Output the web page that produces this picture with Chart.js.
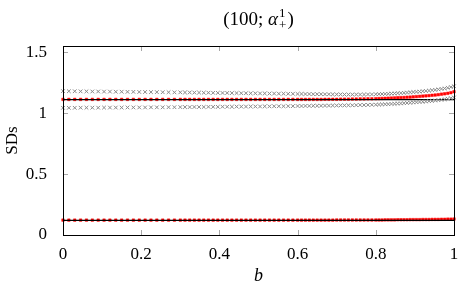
<!DOCTYPE html>
<html lang="en">
<head>
  <meta charset="UTF-8" />
  <title>SDs vs b</title>
  <script src="https://cdn.jsdelivr.net/npm/chart.js"></script>
  <style>
    body { margin: 0; background: #fff; }
    #wrap { width: 464px; height: 287px; }
  </style>
</head>
<body>
  <div id="wrap"><canvas id="chart" width="464" height="287"></canvas></div>

  <script>
    // b positions (denser towards 1)
    const bValues = [
      0, 0.015, 0.03, 0.045, 0.06, 0.075, 0.09, 0.105, 0.12, 0.135, 0.15, 0.165, 0.18, 0.195, 0.21, 0.225, 0.24, 0.255, 0.27, 0.285,
      0.3, 0.312, 0.324, 0.336, 0.348, 0.36, 0.372, 0.384, 0.396, 0.408, 0.42, 0.432, 0.444, 0.456, 0.468, 0.48, 0.492, 0.504, 0.516, 0.528, 0.54, 0.552, 0.564, 0.576, 0.588,
      0.6, 0.61, 0.62, 0.63, 0.64, 0.65, 0.66, 0.67, 0.68, 0.69, 0.7, 0.71, 0.72, 0.73, 0.74, 0.75, 0.76, 0.77, 0.78, 0.79,
      0.8, 0.808, 0.816, 0.824, 0.832, 0.84, 0.848, 0.856, 0.864, 0.872, 0.88, 0.888, 0.896, 0.904, 0.912, 0.92, 0.928, 0.936, 0.944, 0.952, 0.96, 0.968, 0.976, 0.984, 0.992, 1.0
    ];

    const upperGray = [
      1.180, 1.179, 1.179, 1.178, 1.178, 1.177, 1.177, 1.176, 1.176, 1.175, 1.175, 1.174, 1.174, 1.173, 1.173, 1.172, 1.172, 1.171, 1.171, 1.170,
      1.170, 1.169, 1.169, 1.168, 1.168, 1.167, 1.167, 1.166, 1.166, 1.165, 1.165, 1.164, 1.164, 1.163, 1.163, 1.162, 1.162, 1.161, 1.161, 1.160, 1.160, 1.159, 1.159, 1.158, 1.158,
      1.157, 1.157, 1.156, 1.156, 1.155, 1.155, 1.155, 1.154, 1.154, 1.153, 1.153, 1.153, 1.152, 1.152, 1.152, 1.152, 1.152, 1.152, 1.153, 1.153,
      1.154, 1.155, 1.156, 1.157, 1.158, 1.160, 1.161, 1.163, 1.164, 1.166, 1.168, 1.170, 1.172, 1.174, 1.176, 1.179, 1.181, 1.184, 1.187, 1.190, 1.194, 1.198, 1.202, 1.207, 1.213, 1.220
    ];

    const lowerGray = [
      1.043, 1.043, 1.043, 1.044, 1.044, 1.044, 1.044, 1.045, 1.045, 1.045, 1.045, 1.046, 1.046, 1.046, 1.046, 1.047, 1.047, 1.047, 1.048, 1.048,
      1.049, 1.049, 1.049, 1.050, 1.050, 1.050, 1.051, 1.051, 1.051, 1.052, 1.052, 1.052, 1.053, 1.053, 1.053, 1.054, 1.054, 1.054, 1.055, 1.055, 1.056, 1.056, 1.056, 1.057, 1.057,
      1.058, 1.058, 1.059, 1.059, 1.060, 1.060, 1.060, 1.061, 1.061, 1.062, 1.062, 1.063, 1.063, 1.064, 1.064, 1.065, 1.066, 1.066, 1.067, 1.068,
      1.069, 1.070, 1.071, 1.072, 1.073, 1.075, 1.076, 1.078, 1.079, 1.081, 1.083, 1.085, 1.087, 1.089, 1.091, 1.093, 1.095, 1.098, 1.100, 1.103, 1.106, 1.109, 1.113, 1.117, 1.122, 1.128
    ];

    const redUpper = [
      1.112, 1.112, 1.112, 1.112, 1.112, 1.112, 1.112, 1.112, 1.112, 1.112, 1.112, 1.112, 1.112, 1.112, 1.112, 1.112, 1.112, 1.112, 1.112, 1.112,
      1.112, 1.112, 1.112, 1.112, 1.112, 1.112, 1.112, 1.112, 1.112, 1.112, 1.112, 1.112, 1.112, 1.112, 1.112, 1.112, 1.112, 1.112, 1.112, 1.112, 1.112, 1.112, 1.112, 1.112, 1.112,
      1.112, 1.112, 1.112, 1.112, 1.112, 1.112, 1.112, 1.113, 1.113, 1.113, 1.113, 1.114, 1.114, 1.114, 1.115, 1.115, 1.116, 1.116, 1.117, 1.117,
      1.118, 1.119, 1.120, 1.121, 1.122, 1.123, 1.124, 1.126, 1.127, 1.128, 1.130, 1.131, 1.133, 1.135, 1.137, 1.139, 1.141, 1.143, 1.146, 1.148, 1.151, 1.155, 1.158, 1.162, 1.167, 1.175
    ];

    const redLower = [
      0.122, 0.122, 0.122, 0.122, 0.122, 0.122, 0.122, 0.122, 0.122, 0.122, 0.122, 0.122, 0.122, 0.122, 0.122, 0.122, 0.122, 0.122, 0.122, 0.122,
      0.122, 0.122, 0.122, 0.122, 0.122, 0.122, 0.122, 0.122, 0.122, 0.122, 0.122, 0.122, 0.122, 0.122, 0.122, 0.122, 0.122, 0.122, 0.122, 0.122, 0.122, 0.122, 0.122, 0.122, 0.122,
      0.122, 0.122, 0.122, 0.122, 0.122, 0.122, 0.122, 0.122, 0.122, 0.122, 0.123, 0.123, 0.123, 0.123, 0.123, 0.123, 0.123, 0.123, 0.123, 0.123,
      0.123, 0.123, 0.123, 0.124, 0.124, 0.124, 0.124, 0.125, 0.125, 0.125, 0.125, 0.126, 0.126, 0.126, 0.126, 0.127, 0.127, 0.127, 0.128, 0.128, 0.128, 0.129, 0.129, 0.130, 0.130, 0.131
    ];

    // reference (true) levels, drawn as solid black lines
    const bTrue = [0, 1];
    const trueUpper = [1.11, 1.11];
    const trueLower = [0.12, 0.12];

    const xTicks = [0, 0.2, 0.4, 0.6, 0.8, 1];
    const yTicks = [0, 0.5, 1, 1.5];

    const pts = (xs, ys) => xs.map((x, i) => ({ x: x, y: ys[i] }));

    const SERIF = '"Liberation Serif", "DejaVu Serif", serif';

    // axis box, inward tick marks and the title
    const framePlugin = {
      id: 'frame',
      afterDraw(chart) {
        const { ctx, chartArea: a, scales } = chart;
        ctx.save();
        ctx.strokeStyle = '#a8a8a8';
        ctx.lineWidth = 1;
        xTicks.forEach(v => {
          const px = Math.round(scales.x.getPixelForValue(v)) + 0.5;
          ctx.beginPath();
          ctx.moveTo(px, a.bottom); ctx.lineTo(px, a.bottom - 5);
          ctx.moveTo(px, a.top); ctx.lineTo(px, a.top + 5);
          ctx.stroke();
        });
        yTicks.forEach(v => {
          const py = Math.round(scales.y.getPixelForValue(v)) + 0.5;
          ctx.beginPath();
          ctx.moveTo(a.left, py); ctx.lineTo(a.left + 5, py);
          ctx.moveTo(a.right, py); ctx.lineTo(a.right - 5, py);
          ctx.stroke();
        });
        ctx.strokeStyle = '#000';
        ctx.strokeRect(Math.round(a.left) + 0.5, Math.round(a.top) + 0.5,
                       Math.round(a.right - a.left), Math.round(a.bottom - a.top));

        // title: (100; α^1_+)
        const big = '19px ' + SERIF, ital = 'italic 19px ' + SERIF, small = '13px ' + SERIF;
        const parts = [
          { t: '(100; ', f: big },
          { t: 'α', f: ital },
        ];
        ctx.fillStyle = '#000';
        ctx.textBaseline = 'alphabetic';
        let w = 0;
        parts.forEach(p => { ctx.font = p.f; p.w = ctx.measureText(p.t).width; w += p.w; });
        ctx.font = small;
        const scriptW = Math.max(ctx.measureText('1').width, ctx.measureText('+').width) + 2;
        ctx.font = big;
        const closeW = ctx.measureText(')').width;
        w += scriptW + closeW;
        let x = (a.left + a.right) / 2 - w / 2;
        const base = 25;
        parts.forEach(p => { ctx.font = p.f; ctx.fillText(p.t, x, base); x += p.w; });
        ctx.font = small;
        ctx.fillText('1', x + 1, base - 8);
        ctx.fillText('+', x + 1, base + 4);
        x += scriptW;
        ctx.font = big;
        ctx.fillText(')', x, base);
        ctx.restore();
      }
    };

    const markerGray = '#8a8a8a';
    const fmt = v => String(v);

    new Chart(document.getElementById('chart'), {
      type: 'scatter',
      data: {
        datasets: [
          { data: pts(bValues, upperGray), pointStyle: 'crossRot', radius: 2.6, borderColor: markerGray, borderWidth: 1, showLine: false, clip: false },
          { data: pts(bValues, lowerGray), pointStyle: 'crossRot', radius: 2.6, borderColor: markerGray, borderWidth: 1, showLine: false, clip: false },
          { data: pts(bTrue, trueUpper), showLine: true, borderColor: '#000', borderWidth: 1.2, pointRadius: 0 },
          { data: pts(bTrue, trueLower), showLine: true, borderColor: '#000', borderWidth: 1.2, pointRadius: 0 },
          { data: pts(bValues, redUpper), pointStyle: 'rect', radius: 1.8, backgroundColor: '#ff0000', borderColor: '#ff0000', borderWidth: 0.5, showLine: false, clip: false },
          { data: pts(bValues, redLower), pointStyle: 'rect', radius: 1.8, backgroundColor: '#ff0000', borderColor: '#ff0000', borderWidth: 0.5, showLine: false, clip: false }
        ]
      },
      options: {
        responsive: false,
        animation: false,
        events: [],
        layout: { padding: { top: 46, right: 10, left: 0, bottom: 0 } },
        plugins: { legend: { display: false }, tooltip: { enabled: false } },
        scales: {
          x: {
            type: 'linear', min: 0, max: 1,
            grid: { display: false },
            border: { display: false },
            afterBuildTicks: s => { s.ticks = xTicks.map(v => ({ value: v })); },
            afterFit: s => { s.height = 52; },
            ticks: { color: '#000', font: { family: SERIF, size: 17 }, padding: 1, maxRotation: 0, callback: fmt },
            title: { display: true, text: 'b', color: '#000', font: { family: SERIF, size: 18, style: 'italic' }, padding: { top: 3, bottom: 0 } }
          },
          y: {
            min: 0, max: 1.55,
            grid: { display: false },
            border: { display: false },
            afterBuildTicks: s => { s.ticks = yTicks.map(v => ({ value: v })); },
            afterFit: s => { s.width = 63; },
            ticks: { color: '#000', font: { family: SERIF, size: 17 }, padding: 8, callback: fmt },
            title: { display: true, text: 'SDs', color: '#000', font: { family: SERIF, size: 17 }, padding: { top: 2, bottom: 0 } }
          }
        }
      },
      plugins: [framePlugin]
    });
  </script>
</body>
</html>
